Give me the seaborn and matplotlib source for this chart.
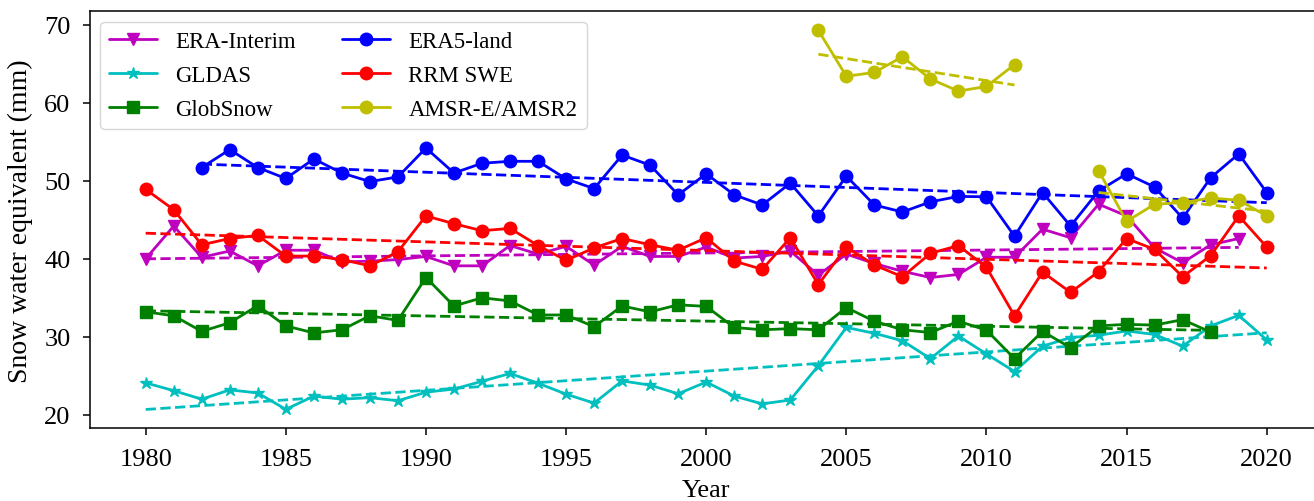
import numpy as np
import pandas as pd
import matplotlib
matplotlib.use("Agg")
import matplotlib.pyplot as plt
import seaborn as sns

# ---------------- data ----------------
era_int_years = list(range(1980, 2020))
era_int = [40.0, 44.2, 40.2, 41.0, 39.1, 41.1, 41.1, 39.6, 39.7, 39.9,
           40.3, 39.1, 39.1, 41.7, 40.6, 41.6, 39.2, 41.6, 40.3, 40.3,
           41.5, 40.1, 40.3, 41.0, 37.9, 40.6, 39.4, 38.4, 37.6, 38.0,
           40.2, 40.2, 43.8, 42.7, 47.0, 45.5, 41.4, 39.5, 41.8, 42.6]

gldas_years = list(range(1980, 2021))
gldas = [24.1, 23.1, 22.0, 23.2, 22.8, 20.7, 22.4, 22.0, 22.2, 21.8,
         22.9, 23.3, 24.3, 25.3, 24.05, 22.65, 21.5, 24.35, 23.8, 22.7,
         24.2, 22.4, 21.4, 21.9, 26.3, 31.2, 30.45, 29.5, 27.2, 30.1,
         27.8, 25.55, 28.8, 29.9, 30.2, 30.75, 30.3, 28.8, 31.4, 32.75, 29.6]

globsnow_years = list(range(1980, 2019))
globsnow = [33.2, 32.7, 30.7, 31.8, 34.0, 31.4, 30.5, 30.9, 32.7, 32.1,
            37.6, 33.95, 35.0, 34.6, 32.8, 32.8, 31.3, 33.95, 33.2, 34.1,
            33.9, 31.2, 30.9, 31.05, 30.9, 33.75, 32.0, 30.9, 30.55, 32.0,
            30.85, 27.2, 30.7, 28.6, 31.4, 31.6, 31.5, 32.2, 30.6]

era5_years = list(range(1982, 2021))
era5 = [51.7, 54.0, 51.7, 50.3, 52.8, 51.0, 49.9, 50.5,
        54.2, 51.0, 52.25, 52.5, 52.5, 50.25, 49.0, 53.3, 52.0, 48.2,
        50.9, 48.2, 46.9, 49.7, 45.5, 50.6, 46.9, 46.0, 47.3, 48.0,
        47.95, 42.9, 48.5, 44.2, 48.7, 50.9, 49.2, 45.2, 50.4, 53.45, 48.5]

rrm_years = list(range(1980, 2021))
rrm = [48.9, 46.3, 41.8, 42.6, 43.0, 40.35, 40.35, 39.9, 39.1, 40.9,
       45.5, 44.5, 43.6, 43.9, 41.7, 39.8, 41.4, 42.6, 41.8, 41.1,
       42.7, 39.7, 38.65, 42.7, 36.7, 41.5, 39.2, 37.7, 40.7, 41.7,
       38.9, 32.7, 38.3, 35.7, 38.35, 42.6, 41.2, 37.7, 40.4, 45.5, 41.5]

amsre_years = list(range(2004, 2012))
amsre = [69.3, 63.4, 63.9, 65.9, 63.05, 61.5, 62.1, 64.9]

amsr2_years = list(range(2014, 2021))
amsr2 = [51.3, 44.8, 47.0, 47.2, 47.8, 47.5, 45.5]

x_ticks = [1980, 1985, 1990, 1995, 2000, 2005, 2010, 2015, 2020]
y_ticks = [20, 30, 40, 50, 60, 70]

# ---------------- style ----------------
sns.set_theme(style="ticks")
plt.rcParams["font.family"] = ["Liberation Serif", "DejaVu Serif"]
plt.rcParams["axes.edgecolor"] = "black"
plt.rcParams["axes.linewidth"] = 1.1
plt.rcParams["xtick.color"] = "black"
plt.rcParams["ytick.color"] = "black"
plt.rcParams["text.color"] = "black"
plt.rcParams["axes.labelcolor"] = "black"

FS = 19
LFS = 16.5

C_M = "#BF00BF"
C_C = "#00BFBF"
C_G = "#008000"
C_B = "#0000FF"
C_R = "#FF0000"
C_Y = "#BFBF00"

fig = plt.figure(figsize=(13.14, 5.02), dpi=100)
ax = fig.add_axes([0.0682, 0.1448, 0.9385, 0.8307])

series = [
    ("ERA-Interim", era_int_years, era_int, C_M, "v", 9),
    ("GLDAS", gldas_years, gldas, C_C, "*", 9),
    ("GlobSnow", globsnow_years, globsnow, C_G, "s", 8),
    ("ERA5-land", era5_years, era5, C_B, "o", 9),
    ("RRM SWE", rrm_years, rrm, C_R, "o", 9),
    ("AMSR-E/AMSR2", amsre_years, amsre, C_Y, "o", 9),
    ("_nolegend_", amsr2_years, amsr2, C_Y, "o", 9),
]

for label, xs, ys, col, mk, ms in series:
    sns.regplot(x=np.array(xs, dtype=float), y=np.array(ys, dtype=float),
                ax=ax, scatter=False, ci=None, truncate=True, color=col,
                line_kws=dict(linestyle="--", linewidth=2.0))
    sns.lineplot(x=xs, y=ys, ax=ax, color=col, marker=mk, markersize=ms,
                 markeredgecolor=col, markeredgewidth=1, linewidth=2.0,
                 label=label)

ax.set_xlim(1978, 2022)
ax.set_ylim(18.27, 71.73)
ax.set_xticks(x_ticks)
ax.set_yticks(y_ticks)
ax.tick_params(axis="both", labelsize=FS, length=5.3, width=1.1,
               direction="out", pad=8.5)
ax.tick_params(axis="x", pad=9)
ax.set_xlabel("Year", fontsize=FS, labelpad=6)
ax.set_ylabel("Snow water equivalent (mm)", fontsize=20, labelpad=8)

leg = ax.legend(ncol=2, loc="upper left", fontsize=LFS, frameon=True,
                handlelength=2.1, columnspacing=2.0, labelspacing=0.56,
                borderaxespad=0.45)
leg.get_frame().set_edgecolor("#cccccc")
leg.get_frame().set_alpha(0.8)

fig.savefig("out.png", dpi=100)
